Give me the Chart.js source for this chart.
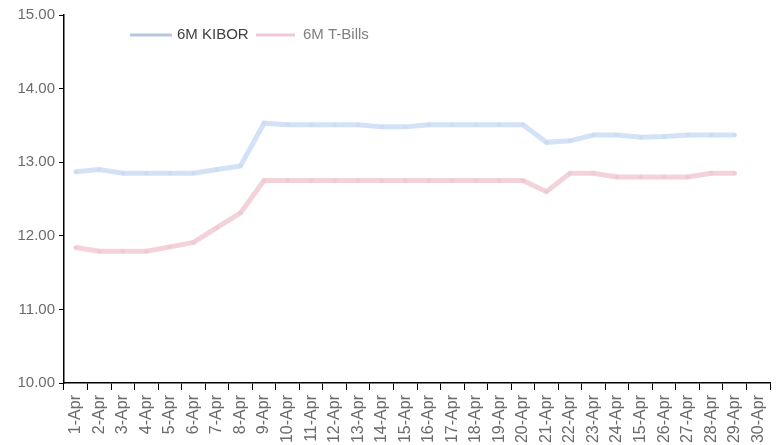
<!DOCTYPE html>
<html lang="en">

<head>
  <meta charset="UTF-8" />
  <title>6M KIBOR vs 6M T-Bills</title>
  <script src="https://cdn.jsdelivr.net/npm/chart.js"></script>
  <style>
    * {
      margin: 0;
      padding: 0;
      box-sizing: border-box;
    }

    body {
      background: #fff;
      overflow: hidden;
    }

    .wrap {
      position: relative;
      width: 776px;
      height: 445px;
    }
  </style>
</head>

<body>

  <div class="wrap">
    <canvas id="rateChart"></canvas>
  </div>

  <script>
    // April daily rates (%)
    const days = ['1-Apr', '2-Apr', '3-Apr', '4-Apr', '5-Apr', '6-Apr', '7-Apr', '8-Apr', '9-Apr', '10-Apr',
      '11-Apr', '12-Apr', '13-Apr', '14-Apr', '15-Apr', '16-Apr', '17-Apr', '18-Apr', '19-Apr', '20-Apr',
      '21-Apr', '22-Apr', '23-Apr', '24-Apr', '15-Apr', '26-Apr', '27-Apr', '28-Apr', '29-Apr', '30-Apr'];

    const kibor = [12.87, 12.90, 12.85, 12.85, 12.85, 12.85, 12.90, 12.95, 13.53, 13.51,
      13.51, 13.51, 13.51, 13.48, 13.48, 13.51, 13.51, 13.51, 13.51, 13.51,
      13.27, 13.29, 13.37, 13.37, 13.34, 13.35, 13.37, 13.37, 13.37];

    const tbills = [11.84, 11.79, 11.79, 11.79, 11.85, 11.91, 12.11, 12.31, 12.75, 12.75,
      12.75, 12.75, 12.75, 12.75, 12.75, 12.75, 12.75, 12.75, 12.75, 12.75,
      12.60, 12.85, 12.85, 12.80, 12.80, 12.80, 12.80, 12.85, 12.85];

    const yTicks = [10, 11, 12, 13, 14, 15];

    const font = "'Liberation Sans', Arial, sans-serif";

    // legend sits inside the plot, top left
    const insideLegend = {
      id: 'insideLegend',
      afterDraw(chart) {
        const c = chart.ctx;
        const items = [
          { x1: 130, x2: 172, tx: 177, line: '#b7c7e2', text: '#404040', label: '6M KIBOR' },
          { x1: 256, x2: 295, tx: 303, line: '#f0cbd3', text: '#7f7f7f', label: '6M T-Bills' }
        ];
        const y = 35;
        c.save();
        c.lineWidth = 3;
        c.font = '15px ' + font;
        c.textBaseline = 'middle';
        items.forEach(it => {
          c.strokeStyle = it.line;
          c.beginPath();
          c.moveTo(it.x1, y);
          c.lineTo(it.x2, y);
          c.stroke();
          c.fillStyle = it.text;
          c.fillText(it.label, it.tx, y);
        });
        c.restore();
      }
    };

    new Chart(document.getElementById('rateChart'), {
      type: 'line',
      data: {
        labels: days,
        datasets: [{
          label: '6M KIBOR',
          data: kibor,
          borderColor: '#d3e2f6',
          backgroundColor: '#cddcf3',
          borderWidth: 5,
          pointRadius: 2.2,
          pointBorderWidth: 0,
          tension: 0
        }, {
          label: '6M T-Bills',
          data: tbills,
          borderColor: '#f3d2d9',
          backgroundColor: '#eecad2',
          borderWidth: 5,
          pointRadius: 2.2,
          pointBorderWidth: 0,
          tension: 0
        }]
      },
      options: {
        responsive: true,
        maintainAspectRatio: false,
        animation: false,
        layout: {
          padding: { top: 15, right: 6, left: 0, bottom: 0 }
        },
        plugins: {
          legend: { display: false },
          tooltip: { enabled: false }
        },
        scales: {
          x: {
            offset: true,
            afterFit(scale) {
              scale.height = 62;
              scale.paddingLeft = 0;
              scale.paddingRight = 0;
            },
            grid: {
              offset: true,
              drawOnChartArea: false,
              drawTicks: true,
              tickLength: 7,
              color: '#000'
            },
            border: { display: true, color: '#000', width: 1.5 },
            ticks: {
              autoSkip: false,
              minRotation: 90,
              maxRotation: 90,
              padding: 5,
              color: '#6b6b6b',
              font: { family: font, size: 16 }
            }
          },
          y: {
            min: 10,
            max: 15,
            afterFit(scale) { scale.width = 64; },
            afterBuildTicks(scale) {
              scale.ticks = yTicks.map(v => ({ value: v }));
            },
            grid: {
              drawOnChartArea: false,
              drawTicks: true,
              tickLength: 5,
              color: '#000'
            },
            border: { display: true, color: '#000', width: 1.5 },
            ticks: {
              padding: 4,
              color: '#6b6b6b',
              font: { family: font, size: 15 },
              callback: v => Number(v).toFixed(2)
            }
          }
        }
      },
      plugins: [insideLegend]
    });
  </script>

</body>

</html>
